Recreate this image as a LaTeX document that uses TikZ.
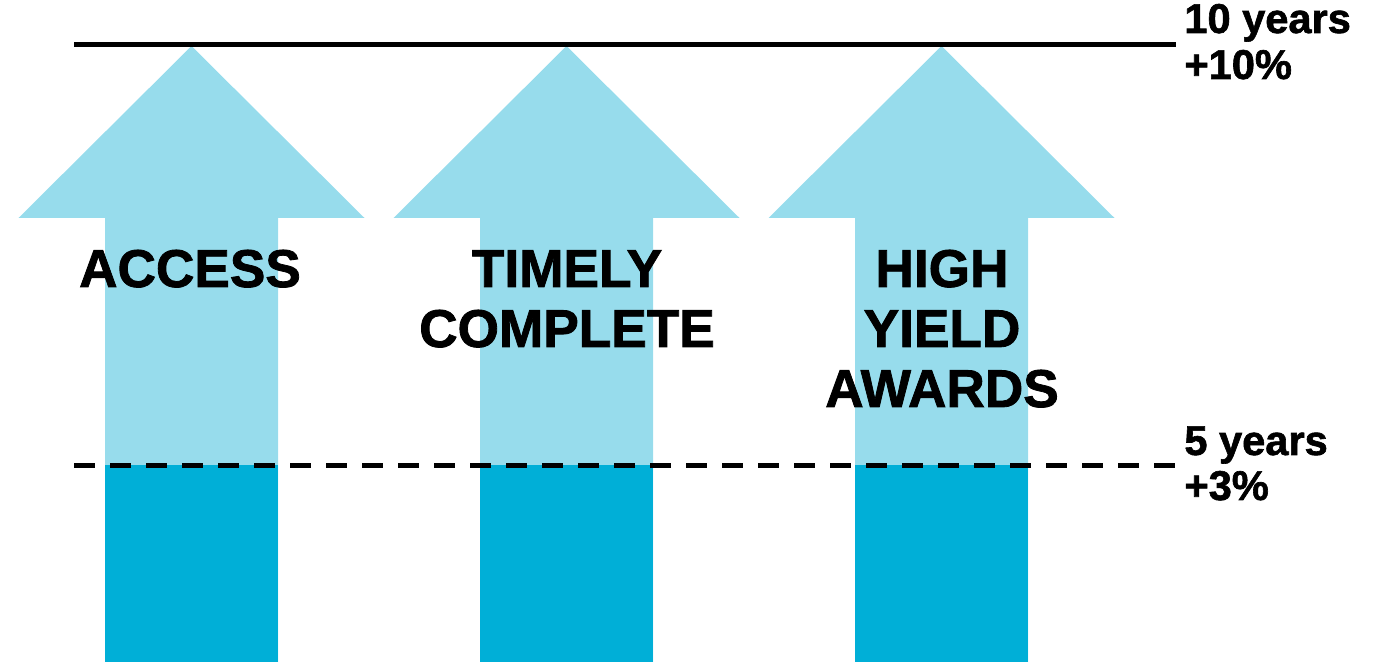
\documentclass[tikz,border=0pt]{standalone}
\usepackage{fontspec}
\setmainfont{Liberation Sans}[BoldFeatures={FakeBold=1.5}]
\definecolor{lightblue}{HTML}{97DCEC}
\definecolor{darkblue}{HTML}{00AFD7}
\begin{document}
\begin{tikzpicture}[x=0.5pt,y=-0.5pt,
  lbl/.style={anchor=base,inner sep=0pt,font=\fontsize{26.6}{30}\selectfont\bfseries},
  side/.style={anchor=base west,inner sep=0pt,font=\fontsize{20.8}{23}\selectfont\bfseries},
  level/.style={line width=2.5pt,black},
  levdash/.style={level,dash pattern=on 10.5pt off 7.5pt}]
\useasboundingbox (0,0) rectangle (1373,662);
% arrows
\foreach \cx/\nm in {191.5/a1,566.5/a2,941.5/a3}{
  \fill[lightblue] (\cx,46) -- (\cx+173,218) -- (\cx+86.5,218) -- (\cx+86.5,662)
     -- (\cx-86.5,662) -- (\cx-86.5,218) -- (\cx-173,218) -- cycle;
  \fill[darkblue] (\cx-86.5,465) rectangle (\cx+86.5,662);
  \coordinate (\nm) at (\cx,0);
}
% level lines
\coordinate (tl) at (74,45);
\coordinate (tr) at (1176,45);
\coordinate (dl) at (74,466);
\coordinate (dr) at (1176,466);
\draw[level] (tl) -- (tr);
\draw[levdash] (dl) -- (dr);
% side labels
\node[side] (t1) at (1184,33) {10 years};
\node[side] (t2) at (1184,79) {+10\%};
\node[side] (f1) at (1184,455) {5 years};
\node[side] (f2) at (1184,500) {+3\%};
% arrow labels
\node[lbl] (l1) at (190,287) {ACCESS};
\node[lbl] (l2a) at (567,287) {TIMELY};
\node[lbl] (l2b) at (567,347) {COMPLETE};
\node[lbl] (l3a) at (942,287) {HIGH};
\node[lbl] (l3b) at (942,347) {YIELD};
\node[lbl] (l3c) at (942,407) {AWARDS};
\end{tikzpicture}
\end{document}
